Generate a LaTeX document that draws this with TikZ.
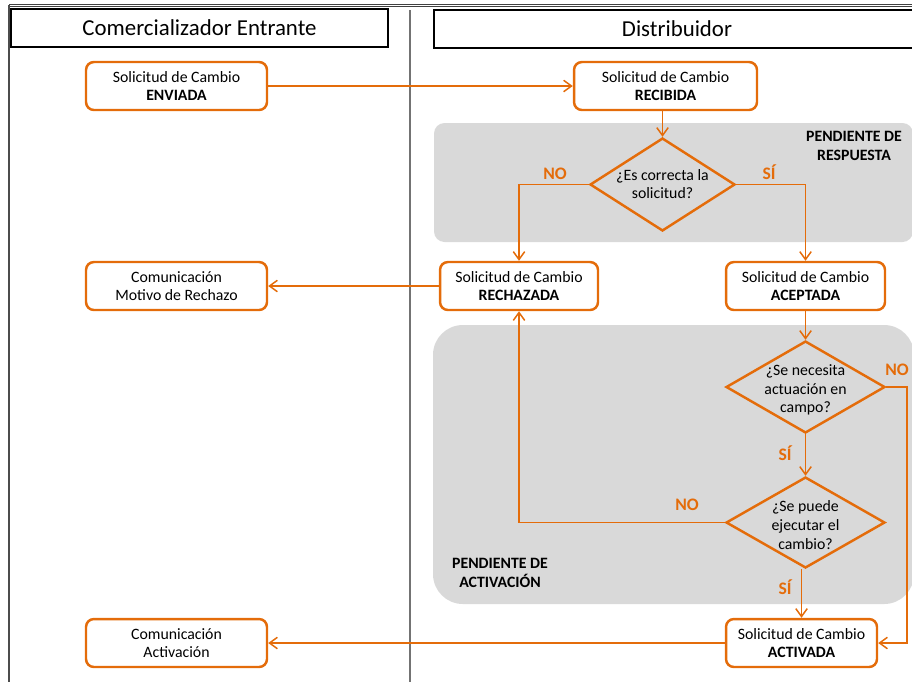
\documentclass[tikz,border=0pt]{standalone}
\usepackage{fontspec}
\setmainfont{Carlito}
\usetikzlibrary{shapes.geometric,arrows.meta}
\definecolor{org}{RGB}{228,108,10}
\definecolor{gbg}{RGB}{217,217,217}
\begin{document}
\begin{tikzpicture}[x=0.02cm,y=-0.02cm,
 box/.style={draw=org,line width=1.4pt,rounded corners=4.5pt,fill=white,minimum height=0.96cm,align=center,inner sep=0pt,font=\fontsize{9}{10.3}\selectfont},
 dia/.style={draw=org,line width=1.4pt,diamond,inner sep=0pt},
 diat/.style={align=center,inner sep=0pt,font=\fontsize{9}{10.6}\selectfont},
 conn/.style={draw=org,line width=0.85pt,-{Straight Barb[length=4.5pt,width=6.5pt]}},
 lab/.style={text=org,inner sep=0pt,font=\fontsize{10}{12}\selectfont\bfseries},
 zone/.style={inner sep=0pt,align=center,font=\fontsize{9}{10.6}\selectfont\bfseries},
 hdr/.style={draw=black,line width=1.1pt,minimum height=0.76cm,inner sep=0pt,font=\fontsize{13}{15}\selectfont}
]
\useasboundingbox (0,0) rectangle (912,681);
% frame
\draw[black!75,double,double distance=0.8pt,line width=0.6pt] (9,5.5) -- (930,5.5);
\draw[black!70,line width=0.9pt] (9,5) -- (9,690);
\draw[black!55,line width=0.8pt] (410,10) -- (410,690);
% zones
\fill[gbg,rounded corners=6pt] (434,123) rectangle (913,242);
\fill[gbg,rounded corners=17pt] (433,325) rectangle (914,604);
\node[zone] (z1) at (854,146) {PENDIENTE DE\\RESPUESTA};
\node[zone] (z2) at (500,573) {PENDIENTE DE\\ACTIVACIÓN};
% headers
\node[hdr,minimum width=7.54cm] (h1) at (199.5,28) {Comercializador Entrante};
\node[hdr,minimum width=9.72cm] (h2) at (677,29) {Distribuidor};
% boxes
\node[box,minimum width=3.62cm] (env) at (176.5,86) {Solicitud de Cambio\\\textbf{ENVIADA}};
\node[box,minimum width=3.66cm] (rec) at (665.5,86) {Solicitud de Cambio\\\textbf{RECIBIDA}};
\node[box,minimum width=3.62cm] (cmr) at (176.5,286) {Comunicación\\Motivo de Rechazo};
\node[box,minimum width=3.16cm] (rch) at (519,286) {Solicitud de Cambio\\\textbf{RECHAZADA}};
\node[box,minimum width=3.18cm] (acp) at (805.5,286) {Solicitud de Cambio\\\textbf{ACEPTADA}};
\node[box,minimum width=3.02cm] (act) at (801.5,643) {Solicitud de Cambio\\\textbf{ACTIVADA}};
\node[box,minimum width=3.62cm] (cma) at (176.5,643) {Comunicación\\Activación};
% diamonds
\node[dia,minimum width=2.9cm,minimum height=1.86cm] (d1) at (662.5,184.5) {};
\node[diat] (d1t) at (662.5,184) {¿Es correcta la\\solicitud?};
\node[dia,minimum width=3.18cm,minimum height=1.84cm] (d2) at (805.5,387) {};
\node[diat] (d2t) at (805.5,390) {¿Se necesita\\actuación en\\campo?};
\node[dia,minimum width=3.18cm,minimum height=1.82cm] (d3) at (805.5,522.5) {};
\node[diat] (d3t) at (805.5,525) {¿Se puede\\ejecutar el\\cambio?};
% labels
\node[lab] (l1) at (555,174) {NO};
\node[lab] (l2) at (769,172) {SÍ};
\node[lab] (l3) at (897,370) {NO};
\node[lab] (l4) at (785,453) {SÍ};
\node[lab] (l5) at (687,505) {NO};
\node[lab] (l6) at (785,587) {SÍ};
% connectors
\coordinate (c2) at (907,387);
\draw[conn] (env) -- (rec);
\draw[conn] (d1.north |- rec.south) -- (d1.north);
\draw[conn] (d1.west) -| (rch.north);
\draw[conn] (d1.east) -| (acp.north);
\draw[conn] (rch) -- (cmr);
\draw[conn] (d2.north |- acp.south) -- (d2.north);
\draw[conn] (d2.east) -- (c2) |- (act.east);
\draw[conn] (d2.south) -- (d3.north);
\draw[conn] (d3.west) -| (rch.south);
\draw[conn] (d3.south -| act.north) -- (act.north);
\draw[conn] (act) -- (cma);
\end{tikzpicture}
\end{document}
